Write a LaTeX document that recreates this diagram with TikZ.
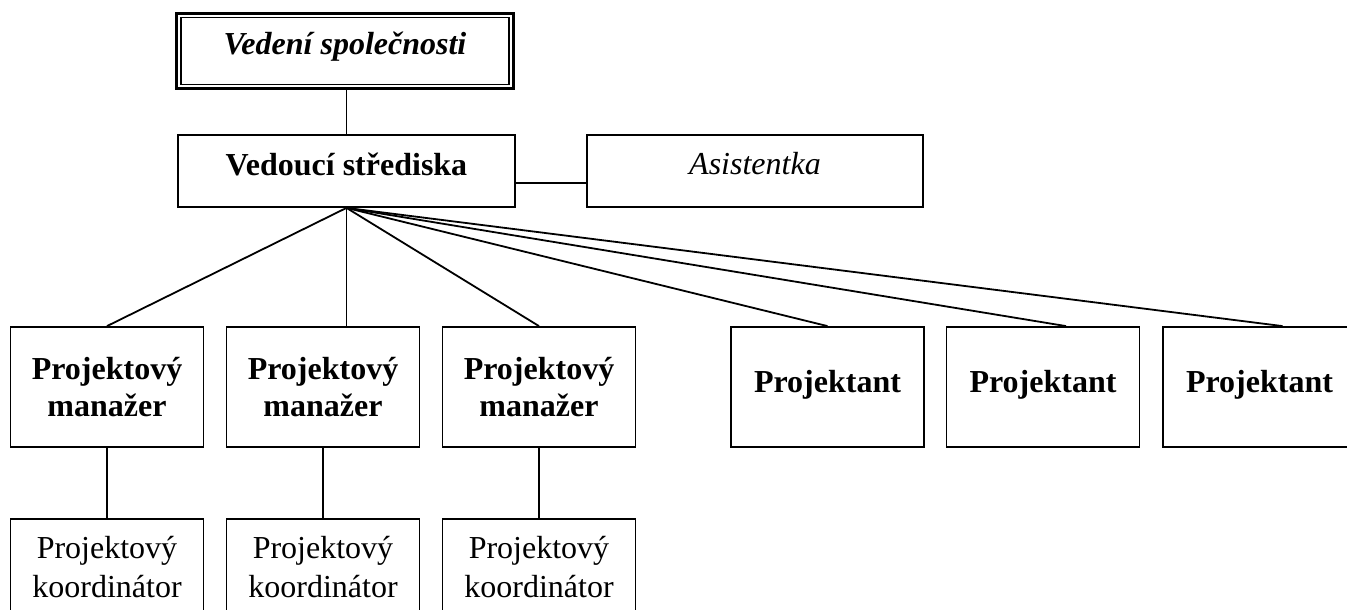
\documentclass[tikz,border=0pt]{standalone}
\usepackage{fontspec}
\setmainfont{Liberation Serif}
\begin{document}
\begin{tikzpicture}[x=1pt,y=-1pt,
  box/.style={draw,line width=1.8pt,rectangle,inner sep=0pt,align=center,
    font=\fontsize{32}{37}\selectfont},
  mid/.style={box,minimum width=193pt,minimum height=120pt},
  low/.style={box,minimum width=193pt,minimum height=96pt,
    font=\fontsize{32}{39}\selectfont},
  head/.style={box,minimum height=72pt,text height=24pt,text depth=16pt},
  link/.style={line width=1.8pt}]
\useasboundingbox (0,0) rectangle (1347,610);
\clip (0,0) rectangle (1347,610);

% top management, thick outer frame with a thin inner frame
\node[box,line width=3pt,minimum width=337pt,minimum height=75pt,
      text height=24pt,text depth=16pt,font=\fontsize{32}{37}\selectfont\bfseries\itshape]
  (top) at (345,51) {Vedení společnosti};
\draw[line width=1.5pt] ([xshift=6pt,yshift=-5.5pt]top.north west)
  rectangle ([xshift=-6pt,yshift=5.5pt]top.south east);

% centre head and assistant
\node[head,minimum width=337pt,font=\fontsize{32}{37}\selectfont\bfseries]
  (vs) at (346.5,171) {Vedoucí střediska};
\node[head,minimum width=336pt,text height=23pt,text depth=17pt,
      font=\fontsize{32}{37}\selectfont\itshape]
  (as) at (755,171) {Asistentka};

% second level
\node[mid,font=\fontsize{32}{37}\selectfont\bfseries] (pm1) at (107,387) {Projektový\\manažer};
\node[mid,font=\fontsize{32}{37}\selectfont\bfseries] (pm2) at (323,387) {Projektový\\manažer};
\node[mid,font=\fontsize{32}{37}\selectfont\bfseries] (pm3) at (539,387) {Projektový\\manažer};
\node[mid,text height=25pt,text depth=15pt,font=\fontsize{32}{37}\selectfont\bfseries]
  (p1) at (827.5,387) {Projektant};
\node[mid,text height=25pt,text depth=15pt,font=\fontsize{32}{37}\selectfont\bfseries]
  (p2) at (1043,387) {Projektant};
\node[mid,text height=25pt,text depth=15pt,font=\fontsize{32}{37}\selectfont\bfseries]
  (p3) at (1259.5,387) {Projektant};

% coordinators
\node[low] (k1) at (107,567) {Projektový\\koordinátor};
\node[low] (k2) at (323,567) {Projektový\\koordinátor};
\node[low] (k3) at (539,567) {Projektový\\koordinátor};

% connectors
\draw[link] (vs.north) -- (vs.north |- top.south);
\draw[link] ([yshift=-12pt]vs.east) -- ([yshift=-12pt]as.west);
\draw[link] (vs.south) -- (pm1.north);
\draw[link] (vs.south) -- (vs.south |- pm2.north);
\draw[link] (vs.south) -- (pm3.north);
\draw[link] (vs.south) -- (p1.north);
\draw[link] (vs.south) -- ([xshift=23pt]p2.north);
\draw[link] (vs.south) -- ([xshift=23pt]p3.north);
\draw[link] (pm1.south) -- (k1.north);
\draw[link] (pm2.south) -- (k2.north);
\draw[link] (pm3.south) -- (k3.north);
\end{tikzpicture}
\end{document}
